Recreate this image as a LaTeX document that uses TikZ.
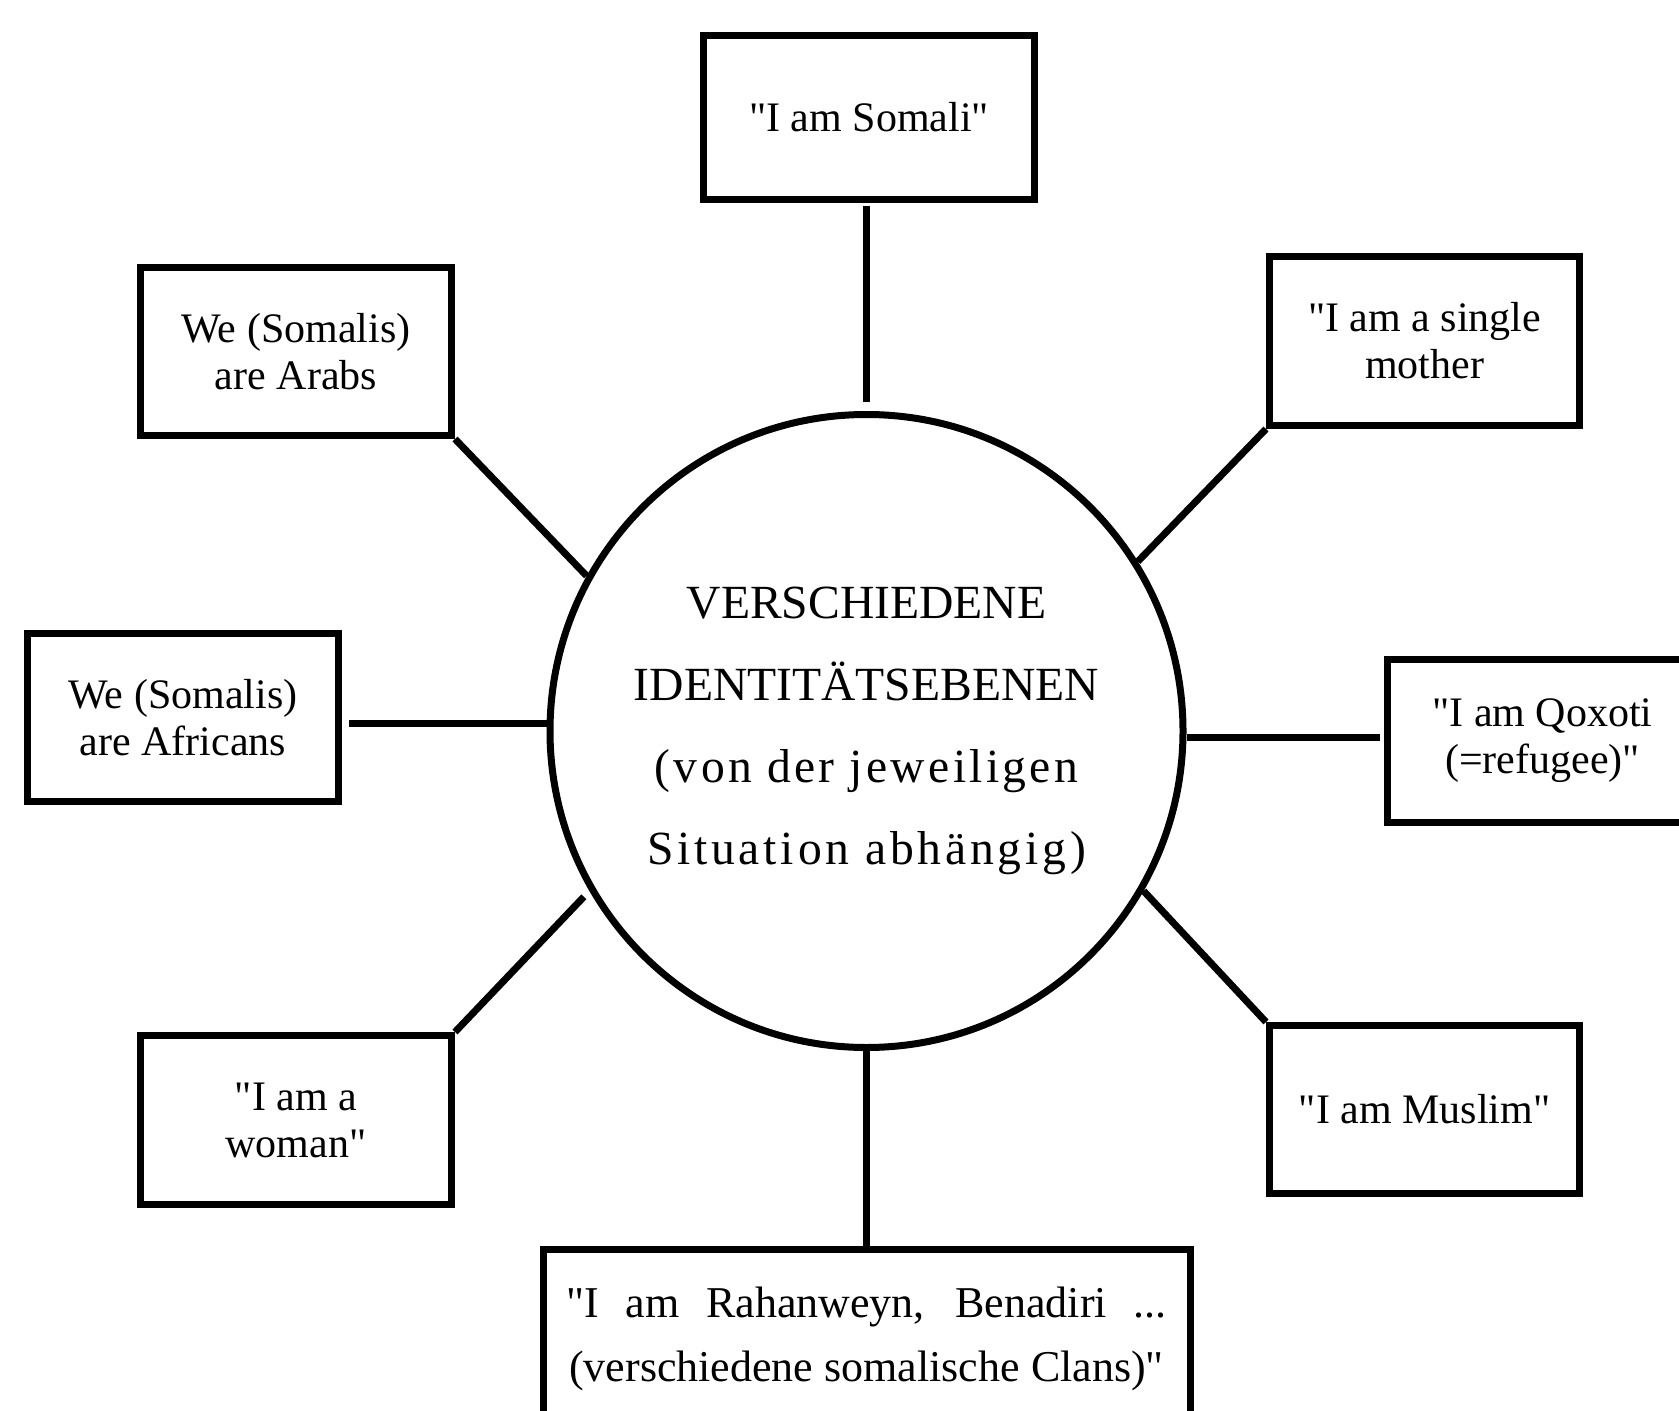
\documentclass[tikz,border=0pt]{standalone}
\usepackage{fontspec}
\setmainfont{Liberation Serif}[Ligatures=TeXOff]
\begin{document}
\begin{tikzpicture}[x=0.5pt,y=-0.5pt,
  box/.style={draw, line width=3.5pt, inner sep=0pt, align=center,
    font=\fontsize{21}{23.5}\selectfont},
  bsize/.style 2 args={minimum width=#1*0.5pt, minimum height=#2*0.5pt},
  hub/.style={circle, draw, line width=3.5pt, inner sep=0pt, align=center,
    minimum size=633*0.5pt, font=\fontsize{23.8}{41}\selectfont},
  conn/.style={line width=3.5pt},
]
\useasboundingbox (0,0) rectangle (1679,1411);
\clip (0,0) rectangle (1679,1411);

% centre
\node[hub] (c) at (866.5,731)
  {VERSCHIEDENE\\IDENTITÄTSEBENEN\\{\addfontfeature{LetterSpace=7}(von der jeweiligen}\\{\addfontfeature{LetterSpace=8}Situation abhängig)}};

% boxes
\node[box, bsize={331}{164}] (top) at (869,117.5) {"I am Somali"};
\node[box, bsize={311}{168}] (tl) at (296,351.5) {We (Somalis)\\are Arabs};
\node[box, bsize={311}{168}] (l) at (183,717.5) {We (Somalis)\\are Africans};
\node[box, bsize={311}{169}] (bl) at (296,1120) {"I am a\\woman"};
\node[box, bsize={310}{169}] (tr) at (1424.5,341) {"I am a single\\mother};
\node[box, bsize={310}{163}] (r) at (1542.5,741) {"I am Qoxoti\\(=refugee)"};
\node[box, bsize={310}{168}] (br) at (1424.5,1109.5) {"I am Muslim"};
\node[box, bsize={647}{180}, font=\fontsize{22}{32}\selectfont] (b) at (866.5,1339)
  {\makebox[300pt][s]{"I am Rahanweyn, Benadiri ...}\\(verschiedene somalische Clans)"};

% connectors
\coordinate (ly) at (0,723);
\coordinate (ry) at (0,737);
\draw[conn, shorten <=1.5pt, shorten >=4.5pt] (c.north |- top.south) -- (c.north);
\draw[conn] (c.south) -- (c.south |- b.north);
\draw[conn, shorten <=3.5pt] (l.east |- ly) -- (c.west |- ly);
\draw[conn, shorten >=2pt] (c.east |- ry) -- (r.west |- ry);
\draw[conn] (tl.south east) -- (c.151);
\draw[conn, shorten >=4pt] (bl.north east) -- (c.210);
\draw[conn] (tr.south west) -- (c.32);
\draw[conn] (br.north west) -- (c.-30);
\end{tikzpicture}
\end{document}
